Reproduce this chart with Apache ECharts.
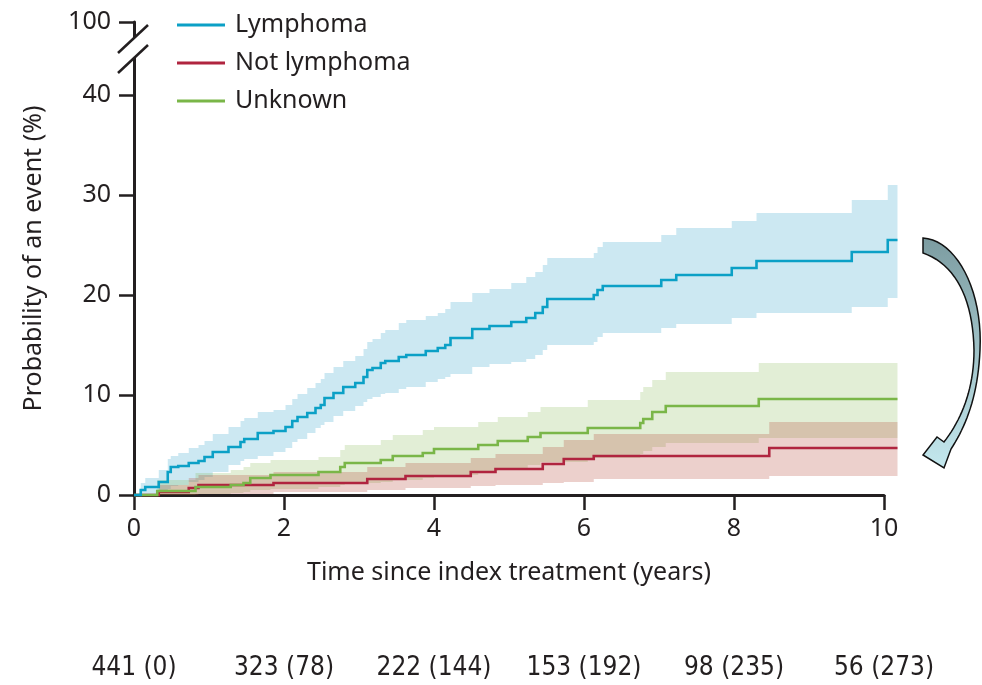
<!DOCTYPE html>
<html>
<head>
<meta charset="utf-8">
<script src="https://cdn.jsdelivr.net/npm/echarts@6/dist/echarts.min.js"></script>
<style>
  html, body { margin: 0; padding: 0; background: #fff; }
  #chart { width: 982px; height: 685px; }
</style>
</head>
<body>
<div id="chart"></div>
<script>
// Lymphoma: time (years), estimate, lower and upper CI (%)
const lymTime = [0, 0.09, 0.15, 0.33, 0.45, 0.49, 0.59, 0.73, 0.86, 0.94, 1.05, 1.26, 1.42, 1.47, 1.65, 1.86, 2.02, 2.11, 2.18, 2.31, 2.42, 2.49, 2.54, 2.66, 2.79, 2.95, 3.06, 3.11, 3.18, 3.29, 3.35, 3.53, 3.63, 3.89, 4.05, 4.15, 4.22, 4.51, 4.74, 5.03, 5.23, 5.35, 5.45, 5.51, 6.13, 6.18, 6.25, 7.03, 7.23, 7.97, 8.30, 9.57, 10.05, 10.18]
const lymEst = [0, 0.5, 0.8, 1.3, 2.3, 2.8, 2.9, 3.2, 3.4, 3.8, 4.3, 4.8, 5.3, 5.6, 6.2, 6.4, 6.8, 7.4, 7.8, 8.2, 8.7, 9.0, 9.7, 10.2, 10.8, 11.2, 11.8, 12.5, 12.7, 13.2, 13.4, 13.8, 14.0, 14.4, 14.7, 15.0, 15.7, 16.6, 16.9, 17.3, 17.7, 18.2, 18.8, 19.6, 20.0, 20.5, 20.9, 21.5, 22.0, 22.7, 23.4, 24.3, 25.5, 25.5]
const lymLow = [0, 0, 0, 0.2, 0.6, 0.9, 1.0, 1.3, 1.5, 1.8, 2.3, 3.0, 3.4, 3.6, 3.9, 4.3, 4.7, 5.3, 5.6, 6.2, 6.7, 7.0, 7.3, 7.9, 8.4, 8.9, 9.3, 9.6, 9.8, 10.1, 10.2, 10.6, 10.8, 11.3, 11.6, 11.8, 12.1, 12.8, 13.1, 13.3, 13.6, 14.0, 14.5, 15.0, 15.3, 15.8, 16.2, 16.7, 17.1, 17.7, 18.2, 18.8, 19.7, 19.7]
const lymHigh = [0, 1.2, 1.7, 2.5, 3.6, 3.9, 4.2, 4.7, 5.0, 5.4, 6.1, 6.8, 7.4, 7.7, 8.3, 8.5, 9.0, 9.6, 10.1, 10.7, 11.2, 11.6, 12.2, 12.8, 13.4, 13.9, 14.6, 15.3, 15.6, 16.2, 16.5, 17.2, 17.5, 17.9, 18.2, 18.6, 19.3, 20.2, 20.6, 21.2, 21.8, 22.3, 23.0, 23.7, 24.2, 24.8, 25.3, 26.0, 26.7, 27.4, 28.2, 29.5, 31.0, 31.0]

// Not lymphoma
const notTime = [0, 0.33, 0.73, 0.86, 1.86, 3.11, 3.62, 4.49, 4.82, 5.45, 5.73, 6.13, 8.47, 10.18]
const notEst = [0, 0.3, 0.7, 1.0, 1.2, 1.6, 1.9, 2.3, 2.6, 3.1, 3.6, 3.9, 4.7, 4.7]
const notLow = [0, 0, 0, 0.1, 0.3, 0.5, 0.7, 0.9, 1.0, 1.2, 1.3, 1.6, 1.9, 1.9]
const notHigh = [0, 1.0, 1.7, 2.0, 2.3, 2.8, 3.2, 3.7, 4.1, 4.8, 5.5, 6.1, 7.3, 7.3]

// Unknown
const unkTime = [0, 0.31, 0.82, 1.29, 1.46, 1.55, 1.82, 2.46, 2.75, 2.81, 3.29, 3.45, 3.85, 4.0, 4.59, 4.85, 5.25, 5.42, 6.05, 6.75, 6.79, 6.91, 7.09, 8.33, 10.18]
const unkEst = [0, 0.4, 0.8, 1.0, 1.2, 1.7, 2.0, 2.3, 2.8, 3.2, 3.5, 3.9, 4.2, 4.6, 5.0, 5.4, 5.8, 6.2, 6.7, 7.2, 7.6, 8.3, 8.9, 9.6, 9.6]
const unkLow = [0, 0, 0.1, 0.2, 0.3, 0.5, 0.6, 0.8, 1.0, 1.2, 1.3, 1.5, 1.7, 2.0, 2.4, 2.7, 3.0, 3.3, 3.7, 4.1, 4.4, 4.8, 5.2, 5.7, 5.7]
const unkHigh = [0, 1.5, 2.2, 2.5, 2.8, 3.2, 3.5, 3.8, 4.5, 5.0, 5.5, 6.0, 6.5, 6.8, 7.3, 7.8, 8.3, 8.8, 9.5, 10.3, 10.8, 11.5, 12.3, 13.2, 13.2]

// numbers at risk at 0, 2, 4, 6, 8, 10 years
const atRisk = ['441 (0)', '323 (78)', '222 (144)', '153 (192)', '98 (235)', '56 (273)']

const ink = '#231f20'
const font = 'Noto Sans'

// step-after path (Kaplan-Meier style) in pixels, through the axis scales
function stepPts (api, time, vals) {
  const pts = []
  for (let i = 0; i < time.length; i++) {
    const p = api.coord([time[i], vals[i]])
    if (i > 0) pts.push([p[0], pts[pts.length - 1][1]])
    pts.push(p)
  }
  return pts
}

function band (time, low, high, color) {
  return {
    type: 'custom',
    xAxisIndex: 0,
    silent: true,
    data: [[0, 0]],
    renderItem: (params, api) => {
      const upper = stepPts(api, time, high)
      const lower = stepPts(api, time, low).reverse()
      return { type: 'polygon', shape: { points: upper.concat(lower) }, style: { fill: color } }
    }
  }
}

function curve (name, time, est, color) {
  return {
    name: name,
    type: 'custom',
    xAxisIndex: 0,
    silent: true,
    itemStyle: { color: color },
    data: [[0, 0]],
    renderItem: (params, api) => ({
      type: 'polyline',
      shape: { points: stepPts(api, time, est) },
      style: { stroke: color, lineWidth: 2.6, fill: null }
    })
  }
}

// sample a cubic bezier (decoration only)
function bez (p0, p1, p2, p3) {
  const pts = []
  for (let k = 0; k <= 20; k++) {
    const s = k / 20
    const a = (1 - s) * (1 - s) * (1 - s)
    const b = 3 * (1 - s) * (1 - s) * s
    const c = 3 * (1 - s) * s * s
    const d = s * s * s
    pts.push([a * p0[0] + b * p1[0] + c * p2[0] + d * p3[0], a * p0[1] + b * p1[1] + c * p2[1] + d * p3[1]])
  }
  return pts
}

const arrowPts = [].concat(
  bez([923, 238], [956, 240], [983, 290], [980, 350]),
  bez([980, 350], [978, 396], [966, 426], [951, 449]),
  [[944, 468], [923, 455], [937, 437], [944, 442]],
  bez([944, 442], [961, 420], [974, 390], [974, 350]),
  bez([974, 350], [973, 298], [955, 264], [923, 253])
)

const chart = echarts.init(document.getElementById('chart'))

chart.setOption({
  animation: false,
  grid: { left: 134, right: 98, top: 22, bottom: 190 },
  legend: {
    data: ['Lymphoma', 'Not lymphoma', 'Unknown'],
    orient: 'vertical',
    left: 177,
    top: 10,
    padding: 0,
    icon: 'rect',
    itemWidth: 48,
    itemHeight: 3,
    itemGap: 8,
    textStyle: { fontFamily: font, fontSize: 25, color: ink, lineHeight: 30, padding: [0, 0, 0, 5] }
  },
  xAxis: [
    {
      type: 'value',
      min: 0,
      max: 10,
      interval: 2,
      name: 'Time since index treatment (years)',
      nameLocation: 'middle',
      nameGap: 65,
      nameTextStyle: { fontFamily: font, fontSize: 25, color: ink },
      splitLine: { show: false },
      axisLine: { lineStyle: { color: ink, width: 3 } },
      axisTick: { length: 15, lineStyle: { color: ink, width: 2.5 } },
      axisLabel: { fontFamily: font, fontSize: 25, color: ink, margin: 34, verticalAlign: 'middle' }
    },
    {
      type: 'value',
      min: 0,
      max: 10,
      interval: 2,
      position: 'bottom',
      splitLine: { show: false },
      axisLine: { show: false },
      axisTick: { show: false },
      axisLabel: {
        fontFamily: "'DejaVu Sans Condensed', 'Liberation Sans Narrow', sans-serif",
        fontSize: 26,
        color: ink,
        margin: 173,
        verticalAlign: 'middle',
        formatter: v => atRisk[Math.round(v / 2)]
      }
    }
  ],
  yAxis: {
    type: 'value',
    min: 0,
    max: 47.3,
    interval: 10,
    name: 'Probability of an event (%)',
    nameLocation: 'middle',
    nameGap: 88,
    nameTextStyle: { fontFamily: font, fontSize: 25, color: ink },
    splitLine: { show: false },
    axisLine: { lineStyle: { color: ink, width: 3 } },
    axisTick: { length: 15, lineStyle: { color: ink, width: 2.5 } },
    axisLabel: {
      fontFamily: font,
      fontSize: 25,
      color: ink,
      margin: 23,
      formatter: v => (v > 45 ? '100' : String(v))
    }
  },
  series: [
    band(lymTime, lymLow, lymHigh, 'rgba(0,140,190,0.2)'),
    band(unkTime, unkLow, unkHigh, 'rgba(110,170,50,0.2)'),
    band(notTime, notLow, notHigh, 'rgba(179,67,51,0.25)'),
    curve('Not lymphoma', notTime, notEst, '#b0243f'),
    curve('Unknown', unkTime, unkEst, '#7ab648'),
    curve('Lymphoma', lymTime, lymEst, '#0ba0c6')
  ],
  graphic: [
    // axis break
    { type: 'rect', z: 100, shape: { x: 129, y: 38, width: 10, height: 20 }, style: { fill: '#fff' } },
    { type: 'line', z: 101, shape: { x1: 118, y1: 53, x2: 148, y2: 25 }, style: { stroke: ink, lineWidth: 2.5 } },
    { type: 'line', z: 101, shape: { x1: 118, y1: 73, x2: 148, y2: 45 }, style: { stroke: ink, lineWidth: 2.5 } },
    // curved arrow
    {
      type: 'polygon',
      z: 100,
      shape: { points: arrowPts },
      style: {
        fill: new echarts.graphic.LinearGradient(0, 0, 0, 1, [
          { offset: 0, color: '#7c9ca1' },
          { offset: 1, color: '#c4e8ee' }
        ]),
        stroke: '#111',
        lineWidth: 1.5
      }
    }
  ]
})
</script>
</body>
</html>
